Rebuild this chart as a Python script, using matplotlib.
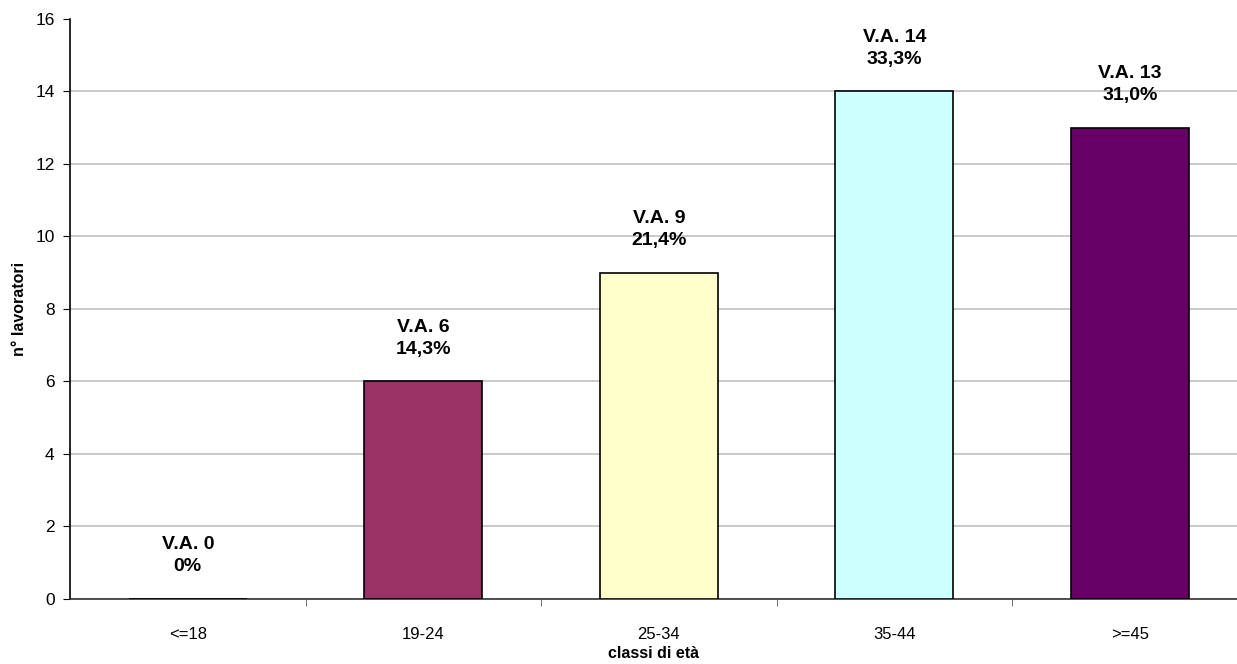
import matplotlib.pyplot as plt

plt.rcParams['font.family'] = ['Liberation Sans', 'DejaVu Sans']

# age classes and worker counts
categories = ['<=18', '19-24', '25-34', '35-44', '>=45']
counts = [0, 6, 9, 14, 13]
percents = ['0%', '14,3%', '21,4%', '33,3%', '31,0%']
colors = ['#FFFFFF', '#993366', '#FFFFCC', '#CCFFFF', '#660066']

fig = plt.figure(figsize=(12.37, 6.64), dpi=100)
ax = fig.add_axes([0.0566, 0.098, 0.9434, 0.8735])

x = range(len(categories))
ax.bar(x, counts, width=0.5, color=colors, edgecolor='black', linewidth=1.2, zorder=3)

# value labels above each bar
for i, (c, p) in enumerate(zip(counts, percents)):
    ax.annotate(f'V.A. {c}\n{p}', (i, c), xytext=(0, 17), textcoords='offset points',
                ha='center', va='bottom', fontsize=14, fontweight='bold',
                linespacing=1.4)

ax.set_ylim(0, 16)
ax.set_yticks(range(0, 17, 2))
ax.set_xlim(-0.5, 4.455)
ax.set_xticks(x)
ax.set_xticklabels(categories)
ax.set_xticks([0.5, 1.5, 2.5, 3.5], minor=True)
ax.tick_params(axis='x', which='major', length=0, labelsize=12, pad=20)
ax.tick_params(axis='x', which='minor', length=5, color='#555555')
ax.tick_params(axis='y', length=5, labelsize=12.5, pad=6)

ax.grid(axis='y', color='#C0C0C0', linewidth=1.2, zorder=0)
ax.yaxis.get_gridlines()[-1].set_visible(False)
ax.spines['top'].set_visible(False)
ax.spines['right'].set_visible(False)
ax.spines['left'].set_linewidth(1.2)
ax.spines['bottom'].set_linewidth(1.2)
ax.spines['bottom'].set_color('#333333')

ax.set_xlabel('classi di età', fontsize=11.5, fontweight='bold')
ax.set_ylabel('n° lavoratori', fontsize=11.5, fontweight='bold')
ax.xaxis.set_label_coords(0.5, -0.082)
ax.yaxis.set_label_coords(-0.037, 0.5)

fig.savefig('out.png', dpi=100)
